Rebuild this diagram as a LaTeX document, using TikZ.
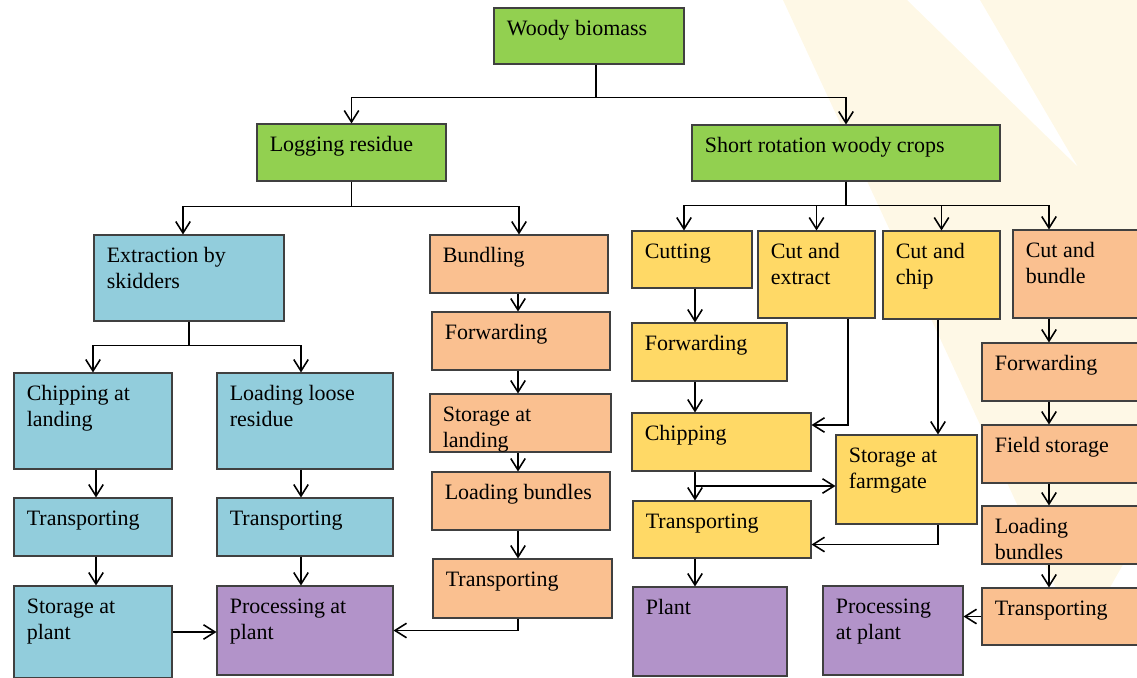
\documentclass[tikz,border=0pt]{standalone}
\usepackage{fontspec}
\setmainfont{Liberation Serif}
\usetikzlibrary{arrows.meta,calc,fit,positioning}
\definecolor{woodgreen}{HTML}{92D050}
\definecolor{residueblue}{HTML}{92CDDC}
\definecolor{bundlepeach}{HTML}{FAC090}
\definecolor{cropyellow}{HTML}{FFD966}
\definecolor{plantpurple}{HTML}{B293C9}
\definecolor{wmark}{HTML}{FEF8E6}
\tikzset{
  stage/.style={draw=black!75,line width=0.6pt,inner sep=0pt,rectangle},
  stagetext/.style={anchor=base west,inner sep=0pt,font=\fontsize{12.5}{14.8}\selectfont},
  >={Straight Barb[length=2.3mm,width=2.9mm]},
  flow/.style={->,line width=0.9pt}
}
\newcommand{\Stage}[5]% corner, corner, name, colour, text
{\node[stage,fill=#4,fit={(#1) (#2)}] (#3) {};
  \node[stagetext] (#3-t) at ($(#3.north west)+(13,28)$) {\parbox[t]{6cm}{#5}};
}
\newcommand{\Down}[3]% from, to, column
{\draw[flow] (#1.south -| #3) -- (#2.north -| #3);}

\begin{document}
\begin{tikzpicture}[x=0.02cm,y=-0.02cm]
  \useasboundingbox (0,0) rectangle (1137,677);
  % faint logo in the back
  \fill[wmark] (783,0) -- (907,0) -- (1078,167) -- (980,0) -- (1137,0)
    -- (1137,540) -- (1080,640) -- cycle;

  \Stage{494,8}{684,64}{woody}{woodgreen}{Woody biomass}
  \Stage{257,124}{446,181}{logging}{woodgreen}{Logging residue}
  \Stage{692,125}{1000,181}{srwc}{woodgreen}{Short rotation woody crops}
  % logging residue
  \Stage{94,235}{284,321}{extract}{residueblue}{Extraction by\\skidders}
  \Stage{14,373}{172,469}{chipL}{residueblue}{Chipping at\\landing}
  \Stage{217,373}{393,469}{loadL}{residueblue}{Loading loose\\residue}
  \Stage{14,498}{172,556}{trA}{residueblue}{Transporting}
  \Stage{217,498}{393,556}{trB}{residueblue}{Transporting}
  \Stage{14,586}{172,678}{storP}{residueblue}{Storage at\\plant}
  \Stage{217,586}{393,675}{procL}{plantpurple}{Processing at\\plant}
  \Stage{430,235}{608,293}{bundling}{bundlepeach}{Bundling}
  \Stage{432,312}{610,370}{fwdC}{bundlepeach}{Forwarding}
  \Stage{430,394}{611,452}{storC}{bundlepeach}{Storage at\\landing}
  \Stage{432,472}{610,530}{loadC}{bundlepeach}{Loading bundles}
  \Stage{433,559}{612,618}{trC}{bundlepeach}{Transporting}
  % short rotation woody crops
  \Stage{632,231}{752,288}{cutting}{cropyellow}{Cutting}
  \Stage{758,231}{875,318}{cutext}{cropyellow}{Cut and\\extract}
  \Stage{883,231}{1000,319}{cutchip}{cropyellow}{Cut and\\chip}
  \Stage{1013,230}{1140,318}{cutbun}{bundlepeach}{Cut and\\bundle}
  \Stage{632,323}{787,381}{fwdY}{cropyellow}{Forwarding}
  \Stage{632,413}{811,471}{chipY}{cropyellow}{Chipping}
  \Stage{836,435}{977,524}{storF}{cropyellow}{Storage at\\farmgate}
  \Stage{633,501}{811,558}{trY}{cropyellow}{Transporting}
  \Stage{633,587}{787,676}{plant}{plantpurple}{Plant}
  \Stage{823,586}{963,675}{procR}{plantpurple}{Processing\\at plant}
  \Stage{982,343}{1140,401}{fwdR}{bundlepeach}{Forwarding}
  \Stage{982,425}{1140,483}{fieldR}{bundlepeach}{Field storage}
  \Stage{982,506}{1140,564}{loadR}{bundlepeach}{Loading\\bundles}
  \Stage{982,588}{1140,645}{trR}{bundlepeach}{Transporting}

  \coordinate (colA) at (96,0);
  \coordinate (colB) at (301,0);
  \coordinate (colC) at (518,0);
  \coordinate (colY) at (695,0);
  \coordinate (colE) at (848,0);
  \coordinate (colF) at (938,0);
  \coordinate (colR) at (1049,0);

  \draw[flow] ($(woody.south)+(7,0)$) -- ++(0,33) -| (logging.north);
  \draw[flow] ($(woody.south)+(7,0)$) -- ++(0,33) -| (srwc.north);
  \draw[flow] (logging.south) -- ++(0,25) -| ($(extract.north)+(-6,0)$);
  \draw[flow] (logging.south) -- ++(0,25) -| (bundling.north);
  \draw[flow] (extract.south) -- ++(0,24) -| (chipL.north);
  \draw[flow] (extract.south) -- ++(0,24) -| (loadL.north -| colB);
  \draw[flow] (srwc.south) -- ++(0,24) -| ($(cutting.north)+(-8,0)$);
  \draw[flow] (srwc.south) -- ++(0,24) -| (cutext.north);
  \draw[flow] (srwc.south) -- ++(0,24) -| (cutchip.north);
  \draw[flow] (srwc.south) -- ++(0,24) -| (cutbun.north -| colR);

  \Down{chipL}{trA}{colA}
  \Down{trA}{storP}{colA}
  \Down{loadL}{trB}{colB}
  \Down{trB}{procL}{colB}
  \Down{bundling}{fwdC}{colC}
  \Down{fwdC}{storC}{colC}
  \Down{storC}{loadC}{colC}
  \Down{loadC}{trC}{colC}
  \Down{cutting}{fwdY}{colY}
  \Down{fwdY}{chipY}{colY}
  \Down{chipY}{trY}{colY}
  \Down{trY}{plant}{colY}
  \Down{cutchip}{storF}{colF}
  \Down{cutbun}{fwdR}{colR}
  \Down{fwdR}{fieldR}{colR}
  \Down{fieldR}{loadR}{colR}
  \Down{loadR}{trR}{colR}

  \draw[flow] (storP.east) -- (storP.east -| procL.west);
  \draw[flow] (trC.south -| colC) |- (procL.east);
  \draw[flow] (cutext.south -| colE) |- ($(chipY.east)+(0,-17)$);
  \coordinate (chipsplit) at ($(chipY.south -| colY)!0.5!(trY.north -| colY)$);
  \draw[flow] (chipsplit) -- (chipsplit -| storF.west);
  \draw[flow] (storF.south -| colF) |- ($(trY.east)+(0,15)$);
  \draw[flow] (trR.west) -- (trR.west -| procR.east);
\end{tikzpicture}
\end{document}
